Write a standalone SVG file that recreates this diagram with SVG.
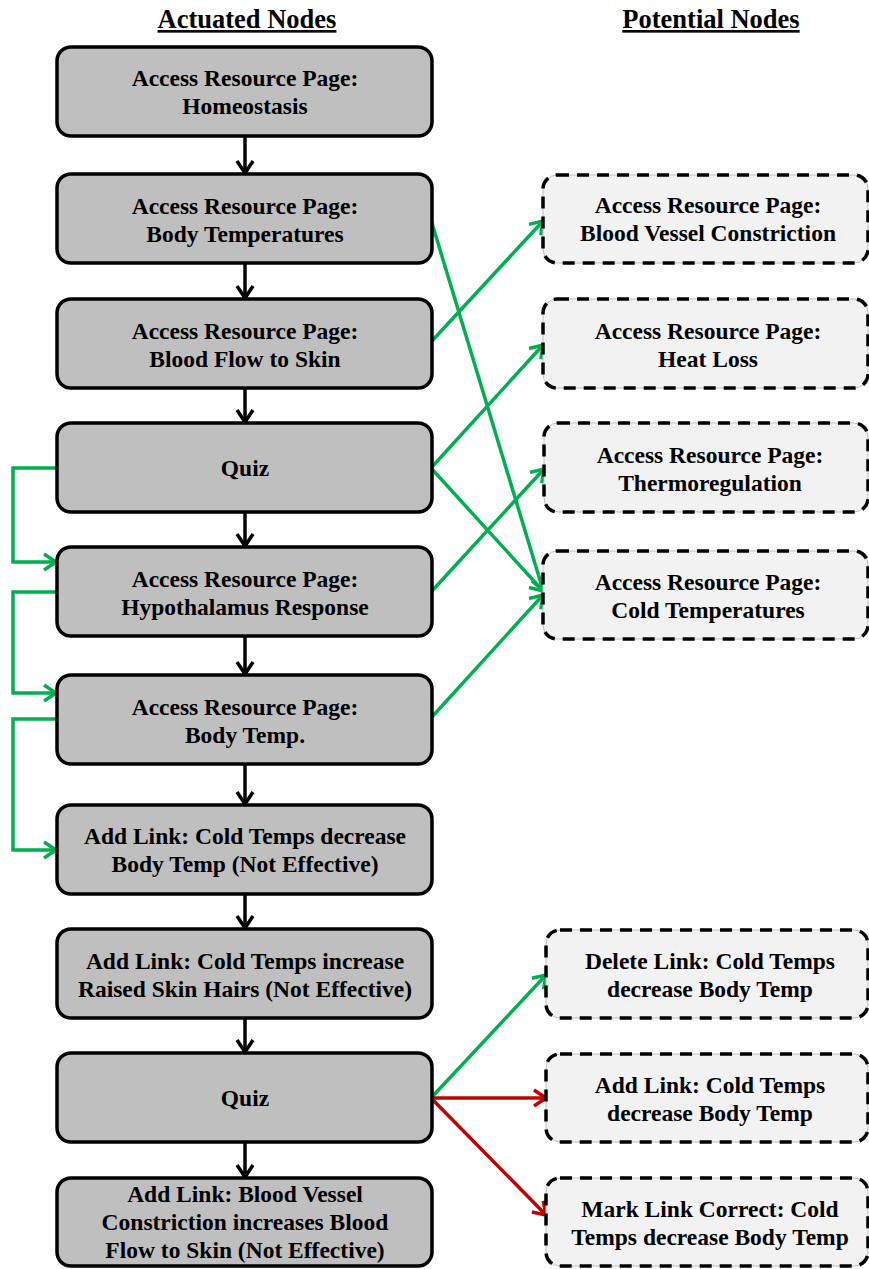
<svg xmlns="http://www.w3.org/2000/svg" width="869" height="1269" viewBox="0 0 869 1269">
  <style>
    text { font-family: "Liberation Serif", "Times New Roman", serif; font-weight: bold; fill: #000; text-anchor: middle; }
    .t { font-size: 23.5px; }
    .title { font-size: 26.5px; text-decoration: underline; }
    .act { fill: #BFBFBF; stroke: #000; stroke-width: 3.5; }
    .pot-bg { fill: #F2F2F2; stroke: #BFBFBF; stroke-width: 1; }
    .pot { fill: none; stroke: #000; stroke-width: 3.5; stroke-dasharray: 12 8; }
    .blk { stroke: #000; stroke-width: 3.5; fill: none; marker-end: url(#ah-black); }
    .grn { stroke: #00B050; stroke-width: 3.5; fill: none; marker-end: url(#ah-green); }
    .red { stroke: #C00000; stroke-width: 3.5; fill: none; marker-end: url(#ah-red); }
  </style>
  <defs>
    <marker id="ah-black" markerUnits="userSpaceOnUse" markerWidth="18" markerHeight="18" refX="14" refY="9" orient="auto" overflow="visible">
      <path d="M2,1 L14,9 L2,17" fill="none" stroke="#000" stroke-width="3.5"/>
    </marker>
    <marker id="ah-green" markerUnits="userSpaceOnUse" markerWidth="18" markerHeight="18" refX="14" refY="9" orient="auto" overflow="visible">
      <path d="M2,1 L14,9 L2,17" fill="none" stroke="#00B050" stroke-width="3.5"/>
    </marker>
    <marker id="ah-red" markerUnits="userSpaceOnUse" markerWidth="18" markerHeight="18" refX="14" refY="9" orient="auto" overflow="visible">
      <path d="M2,1 L14,9 L2,17" fill="none" stroke="#C00000" stroke-width="3.5"/>
    </marker>
  </defs>

  <rect width="869" height="1269" fill="#fff"/>

  <!-- column headings -->
  <g id="headings">
    <text class="title" x="247" y="28">Actuated Nodes</text>
    <text class="title" x="711" y="28">Potential Nodes</text>
  </g>

  <!-- connectors -->
  <g id="connectors">
    <!-- sequence arrows -->
    <line class="blk" x1="245" y1="137" x2="245" y2="173"/>
    <line class="blk" x1="245" y1="264" x2="245" y2="298"/>
    <line class="blk" x1="245" y1="389" x2="245" y2="422"/>
    <line class="blk" x1="245" y1="513" x2="245" y2="546"/>
    <line class="blk" x1="245" y1="637" x2="245" y2="674"/>
    <line class="blk" x1="245" y1="765" x2="245" y2="804"/>
    <line class="blk" x1="245" y1="895" x2="245" y2="928"/>
    <line class="blk" x1="245" y1="1019" x2="245" y2="1052"/>
    <line class="blk" x1="245" y1="1143" x2="245" y2="1177"/>

    <!-- left-side loops -->
    <polyline class="grn" points="57,468 13,468 13,562 56,562"/>
    <polyline class="grn" points="57,592 13,592 13,693 56,693"/>
    <polyline class="grn" points="57,719 13,719 13,850 56,850"/>

    <!-- to potential nodes -->
    <line class="grn" x1="431" y1="220" x2="543" y2="590"/>
    <line class="grn" x1="431" y1="342" x2="543" y2="221"/>
    <line class="grn" x1="431" y1="468" x2="543" y2="345"/>
    <line class="grn" x1="431" y1="468" x2="543" y2="591"/>
    <line class="grn" x1="431" y1="592" x2="544" y2="469"/>
    <line class="grn" x1="431" y1="718" x2="543" y2="595"/>

    <line class="grn" x1="431" y1="1098" x2="546" y2="975"/>
    <line class="red" x1="431" y1="1098" x2="546" y2="1098"/>
    <line class="red" x1="431" y1="1098" x2="546" y2="1215"/>
  </g>

  <!-- actuated nodes -->
  <g id="act-1">
    <rect class="act" x="57" y="47" width="375" height="89" rx="14"/>
    <text class="t" x="245" y="86">Access Resource Page:</text>
    <text class="t" x="245" y="114">Homeostasis</text>
  </g>
  <g id="act-2">
    <rect class="act" x="57" y="174" width="375" height="89" rx="14"/>
    <text class="t" x="245" y="214">Access Resource Page:</text>
    <text class="t" x="245" y="242">Body Temperatures</text>
  </g>
  <g id="act-3">
    <rect class="act" x="57" y="299" width="375" height="89" rx="14"/>
    <text class="t" x="245" y="339">Access Resource Page:</text>
    <text class="t" x="245" y="367">Blood Flow to Skin</text>
  </g>
  <g id="act-4">
    <rect class="act" x="57" y="423" width="375" height="89" rx="14"/>
    <text class="t" x="245" y="476">Quiz</text>
  </g>
  <g id="act-5">
    <rect class="act" x="57" y="547" width="375" height="89" rx="14"/>
    <text class="t" x="245" y="587">Access Resource Page:</text>
    <text class="t" x="245" y="615">Hypothalamus Response</text>
  </g>
  <g id="act-6">
    <rect class="act" x="57" y="675" width="375" height="89" rx="14"/>
    <text class="t" x="245" y="715">Access Resource Page:</text>
    <text class="t" x="245" y="743">Body Temp.</text>
  </g>
  <g id="act-7">
    <rect class="act" x="57" y="805" width="375" height="89" rx="14"/>
    <text class="t" x="245" y="844">Add Link: Cold Temps decrease</text>
    <text class="t" x="245" y="872">Body Temp (Not Effective)</text>
  </g>
  <g id="act-8">
    <rect class="act" x="57" y="929" width="375" height="89" rx="14"/>
    <text class="t" x="245" y="969">Add Link: Cold Temps increase</text>
    <text class="t" x="245" y="997">Raised Skin Hairs (Not Effective)</text>
  </g>
  <g id="act-9">
    <rect class="act" x="57" y="1053" width="375" height="89" rx="14"/>
    <text class="t" x="245" y="1106">Quiz</text>
  </g>
  <g id="act-10">
    <rect class="act" x="57" y="1178" width="375" height="88" rx="14"/>
    <text class="t" x="245" y="1202">Add Link: Blood Vessel</text>
    <text class="t" x="245" y="1230">Constriction increases Blood</text>
    <text class="t" x="245" y="1258">Flow to Skin (Not Effective)</text>
  </g>

  <!-- potential nodes -->
  <g id="pot-1">
    <rect class="pot-bg" x="543" y="175" width="325" height="88" rx="14"/>
    <rect class="pot" x="543" y="175" width="325" height="88" rx="14"/>
    <text class="t" x="708" y="213">Access Resource Page:</text>
    <text class="t" x="708" y="241">Blood Vessel Constriction</text>
  </g>
  <g id="pot-2">
    <rect class="pot-bg" x="543" y="299" width="325" height="89" rx="14"/>
    <rect class="pot" x="543" y="299" width="325" height="89" rx="14"/>
    <text class="t" x="708" y="339">Access Resource Page:</text>
    <text class="t" x="708" y="367">Heat Loss</text>
  </g>
  <g id="pot-3">
    <rect class="pot-bg" x="544" y="423" width="324" height="89" rx="14"/>
    <rect class="pot" x="544" y="423" width="324" height="89" rx="14"/>
    <text class="t" x="710" y="463">Access Resource Page:</text>
    <text class="t" x="710" y="491">Thermoregulation</text>
  </g>
  <g id="pot-4">
    <rect class="pot-bg" x="543" y="551" width="325" height="88" rx="14"/>
    <rect class="pot" x="543" y="551" width="325" height="88" rx="14"/>
    <text class="t" x="708" y="590">Access Resource Page:</text>
    <text class="t" x="708" y="618">Cold Temperatures</text>
  </g>
  <g id="pot-5">
    <rect class="pot-bg" x="546" y="930" width="322" height="88" rx="14"/>
    <rect class="pot" x="546" y="930" width="322" height="88" rx="14"/>
    <text class="t" x="710" y="969">Delete Link: Cold Temps</text>
    <text class="t" x="710" y="997">decrease Body Temp</text>
  </g>
  <g id="pot-6">
    <rect class="pot-bg" x="546" y="1054" width="322" height="88" rx="14"/>
    <rect class="pot" x="546" y="1054" width="322" height="88" rx="14"/>
    <text class="t" x="710" y="1093">Add Link: Cold Temps</text>
    <text class="t" x="710" y="1121">decrease Body Temp</text>
  </g>
  <g id="pot-7">
    <rect class="pot-bg" x="546" y="1178" width="322" height="88" rx="14"/>
    <rect class="pot" x="546" y="1178" width="322" height="88" rx="14"/>
    <text class="t" x="710" y="1217">Mark Link Correct: Cold</text>
    <text class="t" x="710" y="1245">Temps decrease Body Temp</text>
  </g>
</svg>
